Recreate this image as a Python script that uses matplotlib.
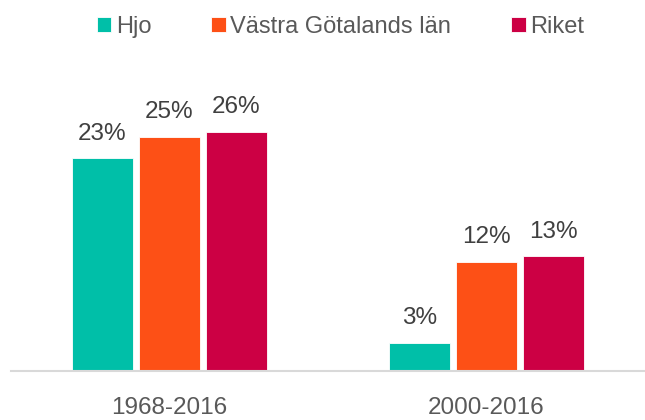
import matplotlib.pyplot as plt
import numpy as np

plt.rcParams['font.family'] = ['Liberation Sans', 'DejaVu Sans']

# data
periods = ["1968-2016", "2000-2016"]
series = ["Hjo", "Västra Götalands län", "Riket"]
hjo = [23.0, 3.0]
vgl = [25.3, 11.8]
riket = [25.9, 12.4]
labels = [["23%", "3%"], ["25%", "12%"], ["26%", "13%"]]

colors = ["#00BFA8", "#FD5016", "#CC0044"]
text_col = "#595959"

fig = plt.figure(figsize=(6.45, 4.2), dpi=100)
ax = fig.add_axes([0.017, 0.1167, 0.983, 0.66])

x = np.arange(len(periods))
w = 0.195
step = 0.2115
for i, (name, vals) in enumerate(zip(series, [hjo, vgl, riket])):
    pos = x + (i - 1) * step
    bars = ax.bar(pos, vals, width=w, color=colors[i], label=name,
                  edgecolor="white", linewidth=0.6)
    for b, lab in zip(bars, labels[i]):
        ax.annotate(lab, (b.get_x() + b.get_width() / 2, b.get_height()),
                    xytext=(0, 10), textcoords="offset points",
                    ha="center", va="bottom", fontsize=17.5, color="#404040")

ax.set_xlim(-0.5, 1.5)
ax.set_ylim(0, 30)
ax.set_xticks(x)
ax.set_xticklabels(periods, fontsize=17.5, color=text_col)
ax.tick_params(axis="x", length=0, pad=19)
ax.set_yticks([])
for s in ["top", "left", "right"]:
    ax.spines[s].set_visible(False)
ax.spines["bottom"].set_color("#D9D9D9")
ax.spines["bottom"].set_linewidth(1.5)

leg = fig.legend(loc="center", bbox_to_anchor=(0.528, 0.936), ncol=3,
                 frameon=False, fontsize=17, handlelength=0.62, handleheight=0.62,
                 handletextpad=0.18, columnspacing=2.55, borderpad=0)
for t in leg.get_texts():
    t.set_color(text_col)

fig.savefig("out.png", dpi=100)
